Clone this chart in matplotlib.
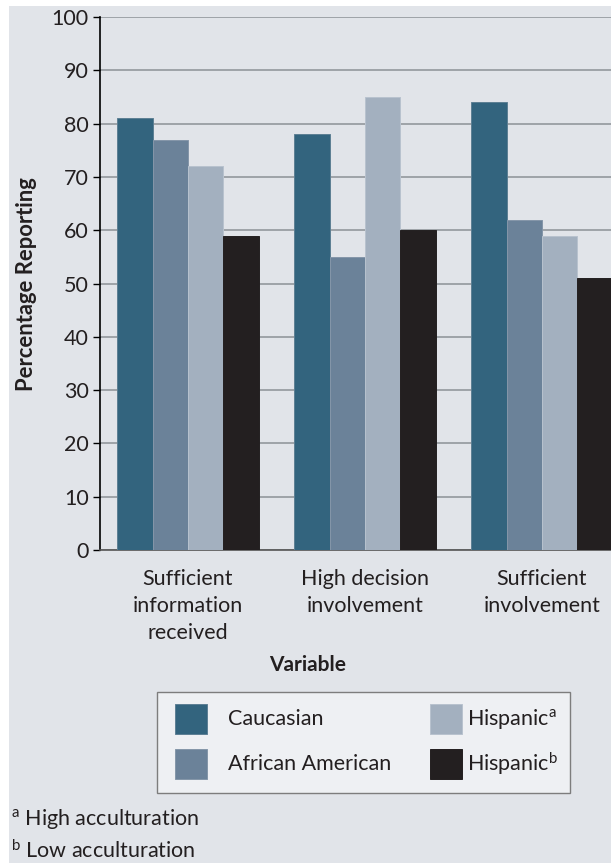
import matplotlib
matplotlib.use("Agg")
import matplotlib.pyplot as plt
import numpy as np
from matplotlib.patches import Rectangle

plt.rcParams['font.family'] = ['Lato', 'DejaVu Sans']
plt.rcParams['mathtext.fontset'] = 'custom'
plt.rcParams['mathtext.rm'] = 'Lato'
plt.rcParams['mathtext.it'] = 'Lato'

categories = ["Sufficient\ninformation\nreceived", "High decision\ninvolvement", "Sufficient\ninvolvement"]
series_names = ["Caucasian", "African American", "Hispanic$^{\\mathrm{a}}$", "Hispanic$^{\\mathrm{b}}$"]
caucasian = [81, 78, 84]
african_american = [77, 55, 62]
hispanic_high = [72, 85, 59]
hispanic_low = [59, 60, 51]
yticks = [0, 10, 20, 30, 40, 50, 60, 70, 80, 90, 100]
footnotes = ["$^{\\mathrm{a}}$ High acculturation", "$^{\\mathrm{b}}$ Low acculturation"]

series = [caucasian, african_american, hispanic_high, hispanic_low]
colors = ["#33647e", "#6b8299", "#a3b0bf", "#231f20"]
edges = ["#5d7f94", "#8496a9", "#b8c2ce", "#231f20"]
BG = "#e1e4e9"
TXT = "#231f20"
FS = 15.5

fig = plt.figure(figsize=(6.11, 8.63), dpi=100)
fig.patch.set_facecolor("white")
fig.patches.append(Rectangle((9/611, 0), 1, 1 - 6/863, transform=fig.transFigure,
                             facecolor=BG, edgecolor="none", zorder=-10))

ax = fig.add_axes([100/611, 1 - 550/863, 1 - 100/611, (550 - 17)/863])
ax.set_facecolor(BG)
x = np.arange(len(categories))
w = 0.2
for i, (vals, c, e) in enumerate(zip(series, colors, edges)):
    ax.bar(x + (i - 1.5) * w, vals, width=w, color=c, edgecolor=e, linewidth=0.7, zorder=3)

ax.set_ylim(0, 100)
ax.set_xlim(-0.497, 2.39)
ax.set_yticks(yticks)
ax.yaxis.grid(True, color="#8c9196", linewidth=1.1, zorder=0)
ax.set_axisbelow(True)
for s in ["top", "right"]:
    ax.spines[s].set_visible(False)
ax.spines["left"].set_color("black")
ax.spines["left"].set_linewidth(1.2)
ax.spines["bottom"].set_color("#555555")
ax.spines["bottom"].set_linewidth(1.2)
ax.tick_params(axis="y", direction="out", length=5, width=1, color="black",
               labelsize=FS, labelcolor=TXT, pad=3)
ax.set_xticks(x)
ax.set_xticklabels(categories, fontsize=FS, color=TXT, linespacing=1.42)
ax.tick_params(axis="x", length=0, pad=14)

fig.text(27/611, 1 - 284/863, "Percentage Reporting", rotation=90, ha="center", va="center",
         fontsize=15.8, fontweight="bold", color=TXT)
fig.text(308/611, 1 - 665/863, "Variable", ha="center", va="center",
         fontsize=15, fontweight="bold", color=TXT)

# legend box
fig.patches.append(Rectangle((157/611, 1 - 793/863), (570 - 157)/611, (793 - 692)/863,
                             transform=fig.transFigure, facecolor="#eef0f3",
                             edgecolor="#7d7d7d", linewidth=1.0))
pos = [(175, 228, 719), (175, 228, 764), (430, 467, 719), (430, 467, 764)]
for (px, tx, py), name, c, e in zip(pos, series_names, colors, edges):
    fig.patches.append(Rectangle((px/611, 1 - (py + 15)/863), 32/611, 30/863,
                                 transform=fig.transFigure, facecolor=c, edgecolor=e, linewidth=0.7))
    fig.text(tx/611, 1 - py/863, name, ha="left", va="center", fontsize=FS, color=TXT)

fig.text(11/611, 1 - 819/863, footnotes[0], ha="left", va="center", fontsize=FS, color=TXT)
fig.text(11/611, 1 - 851/863, footnotes[1], ha="left", va="center", fontsize=FS, color=TXT)

fig.savefig("out.png", dpi=100, facecolor=fig.get_facecolor())
